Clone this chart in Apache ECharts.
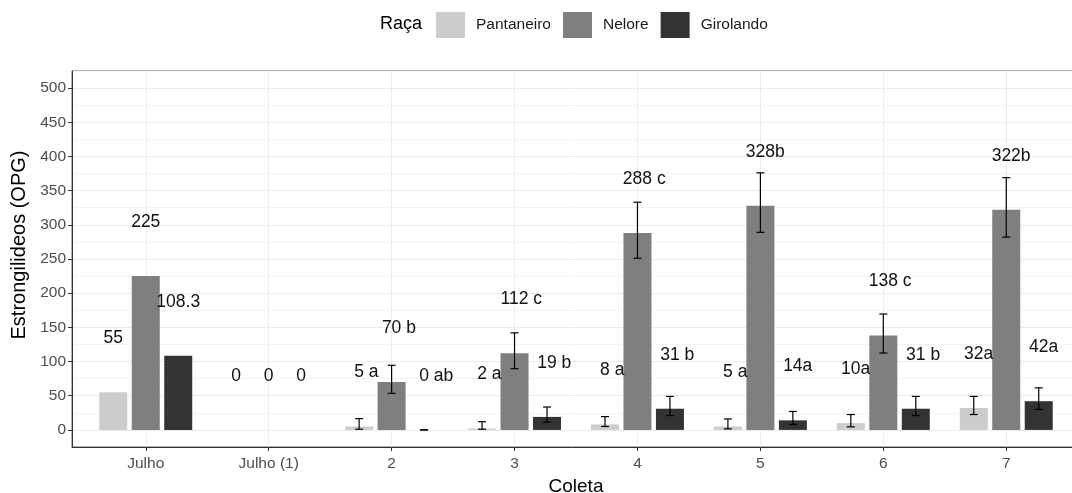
<!DOCTYPE html>
<html>
<head>
<meta charset="utf-8">
<title>Estrongilideos por coleta</title>
<script src="https://cdn.jsdelivr.net/npm/echarts@6.0.0/dist/echarts.min.js"></script>
<style>
  html, body { margin: 0; padding: 0; background: #fff; }
  #grafico { width: 1072px; height: 493px; }
</style>
</head>
<body>
<div id="grafico"></div>
<script>
"use strict";
// dados
var coletas = ['Julho', 'Julho (1)', '2', '3', '4', '5', '6', '7'];
var racas = ['Pantaneiro', 'Nelore', 'Girolando'];

var pantaneiro = [55, 0, 5, 2, 8, 5, 10, 32];
var nelore = [225, 0, 70, 112, 288, 328, 138, 322];
var girolando = [108.3, 0, 0, 19, 31, 14, 31, 42];

// barras de erro [minimo, maximo], null = sem barra
var errPantaneiro = [null, null, [1, 16.5], [1, 12], [5, 19.5], [1.5, 16], [4.5, 22.5], [22.5, 49]];
var errNelore = [null, null, [53.5, 94.5], [89.5, 142], [251, 333], [289, 376], [112.5, 169.5], [282, 369]];
var errGirolando = [null, null, [0, 0], [11.5, 33.5], [21, 49], [8, 27], [21, 49], [30, 61.5]];

// letras do teste de medias
var letrasPantaneiro = ['', '', ' a', ' a', ' a', ' a', 'a', 'a'];
var letrasNelore = ['', '', ' b', ' c', ' c', 'b', ' c', 'b'];
var letrasGirolando = ['', '', ' ab', ' b', ' b', 'a', ' b', 'a'];

var yTicks = [0, 50, 100, 150, 200, 250, 300, 350, 400, 450, 500];

var cores = ['#cccccc', '#7f7f7f', '#333333'];
var valores = [pantaneiro, nelore, girolando];
var erros = [errPantaneiro, errNelore, errGirolando];
var letras = [letrasPantaneiro, letrasNelore, letrasGirolando];

var LARGURA_BARRA = 28;
var GAP_BARRA = 0.16;
var passo = LARGURA_BARRA * (1 + GAP_BARRA);
var posicoes = coletas.map(function (c, i) { return i; });

var myChart = echarts.init(document.getElementById('grafico'));

var series = [];
racas.forEach(function (nome, k) {
    var lt = letras[k];
    series.push({
        name: nome,
        type: 'bar',
        barWidth: LARGURA_BARRA,
        barGap: (GAP_BARRA * 100) + '%',
        itemStyle: { color: cores[k] },
        data: valores[k].map(function (v, i) { return [posicoes[i], v]; }),
        label: {
            show: true,
            position: 'top',
            distance: 44,
            formatter: function (p) {
                var suf = lt[p.dataIndex];
                var num = String(valores[k][p.dataIndex]);
                if (!suf) return '{n|' + num + '}';
                // sufixo fantasma a esquerda para o numero ficar centrado na barra
                return '{g|' + suf + '}{n|' + num + '}{n|' + suf + '}';
            },
            rich: {
                n: { fontSize: 17.5, color: '#111', lineHeight: 20, fontFamily: 'Liberation Sans' },
                g: { fontSize: 17.5, color: 'transparent', lineHeight: 20, fontFamily: 'Liberation Sans' }
            }
        },
        z: 2
    });
});

// barras de erro
racas.forEach(function (nome, k) {
    var dados = [];
    erros[k].forEach(function (e, i) {
        if (e) dados.push([posicoes[i], e[0], e[1]]);
    });
    series.push({
        name: 'erro ' + nome,
        type: 'custom',
        z: 3,
        encode: { x: 0, y: [1, 2] },
        data: dados,
        renderItem: function (params, api) {
            var topo = api.coord([api.value(0), api.value(2)]);
            var base = api.coord([api.value(0), api.value(1)]);
            var x = topo[0] + (k - 1) * passo;
            var cap = 4;
            var estilo = { stroke: '#000', lineWidth: 1.2 };
            return {
                type: 'group',
                children: [
                    { type: 'line', shape: { x1: x, y1: topo[1], x2: x, y2: base[1] }, style: estilo },
                    { type: 'line', shape: { x1: x - cap, y1: topo[1], x2: x + cap, y2: topo[1] }, style: estilo },
                    { type: 'line', shape: { x1: x - cap, y1: base[1], x2: x + cap, y2: base[1] }, style: estilo }
                ]
            };
        }
    });
});

var option = {
    backgroundColor: '#fff',
    animation: false,
    textStyle: { fontFamily: 'Liberation Sans' },
    title: {
        text: 'Raça',
        left: 380,
        top: 15,
        padding: 0,
        textStyle: { fontSize: 18, fontWeight: 'normal', color: '#000', fontFamily: 'Liberation Sans' }
    },
    legend: {
        data: racas,
        left: 436,
        top: 12,
        padding: 0,
        icon: 'rect',
        itemWidth: 29,
        itemHeight: 26,
        itemGap: 12,
        itemStyle: { borderWidth: 0 },
        textStyle: { fontSize: 15.5, color: '#1a1a1a', padding: [0, 0, 0, 6] }
    },
    grid: {
        left: 72,
        right: -8,
        top: 71,
        bottom: 46,
        outerBoundsMode: 'none',
        containLabel: false,
        show: true,
        borderColor: '#666',
        borderWidth: 1
    },
    xAxis: {
        type: 'value',
        min: -0.6,
        max: 7.6,
        name: 'Coleta',
        nameLocation: 'middle',
        nameGap: 29,
        nameTextStyle: { fontSize: 19, color: '#000' },
        axisLine: { show: true, onZero: false, lineStyle: { color: '#333', width: 1 } },
        axisTick: { show: true, customValues: posicoes, length: 4, lineStyle: { color: '#333' } },
        axisLabel: {
            customValues: posicoes,
            fontSize: 15.5,
            color: '#4d4d4d',
            margin: 9,
            formatter: function (v) { return coletas[Math.round(v)]; }
        },
        splitLine: { show: true, lineStyle: { color: '#ebebeb', width: 1 } }
    },
    yAxis: [
        {
            // so as linhas de grade (maiores e menores)
            type: 'value',
            min: -25,
            max: 525,
            interval: 25,
            axisLine: { show: false },
            axisTick: { show: false },
            axisLabel: { show: false },
            splitLine: { show: true, lineStyle: { color: ['#f4f4f4', '#ebebeb'], width: 1 } }
        },
        {
            type: 'value',
            min: -25,
            max: 525,
            position: 'left',
            name: 'Estrongilideos (OPG)',
            nameLocation: 'middle',
            nameGap: 41,
            nameTextStyle: { fontSize: 20, color: '#000', padding: [0, 0, 0, 28] },
            axisLine: { show: true, onZero: false, lineStyle: { color: '#333', width: 1 } },
            axisTick: { show: true, customValues: yTicks, length: 4, lineStyle: { color: '#333' } },
            axisLabel: { customValues: yTicks, fontSize: 15.5, color: '#4d4d4d', margin: 6 },
            splitLine: { show: false }
        }
    ],
    series: series
};
myChart.setOption(option);

window.onresize = function () {
    myChart.resize();
};
</script>
</body>
</html>
